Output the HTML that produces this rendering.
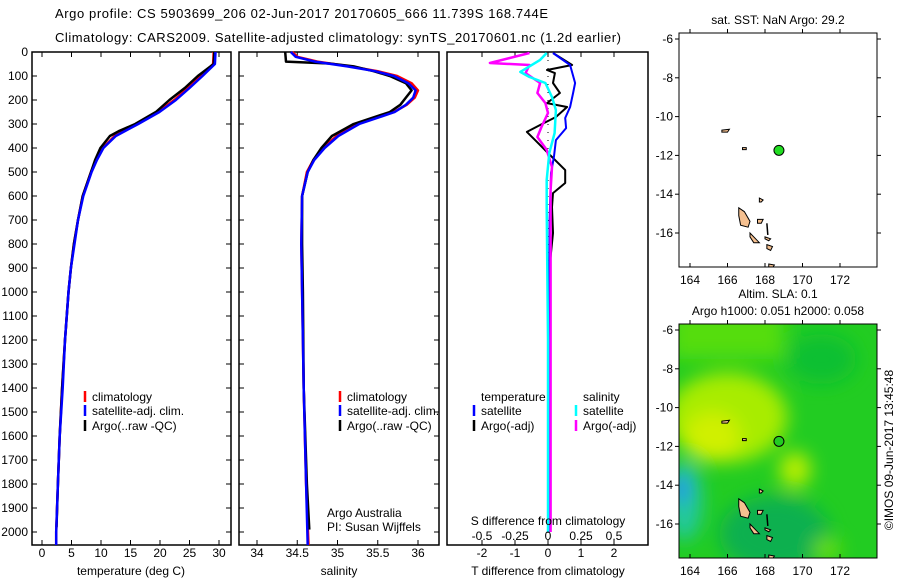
<!DOCTYPE html>
<html><head><meta charset="utf-8"><style>
html,body{margin:0;padding:0;background:#fff}
svg{display:block;font-family:"Liberation Sans",sans-serif}
</style></head><body>
<svg id="fig" width="900" height="580" viewBox="0 0 900 580" xmlns="http://www.w3.org/2000/svg">
<text x="55" y="18" font-size="13" textLength="493">Argo profile: CS 5903699_206 02-Jun-2017 20170605_666 11.739S 168.744E</text>
<text x="55" y="42" font-size="13" textLength="566">Climatology: CARS2009. Satellite-adjusted climatology: synTS_20170601.nc (1.2d earlier)</text>
<g id="p1"></g>
<g id="p2"></g>
<g id="p3"></g>
<g id="m1"></g>
<g id="m2"></g>
<text transform="translate(893,450) rotate(-90)" font-size="12" text-anchor="middle">©IMOS 09-Jun-2017 13:45:48</text>
</svg>
<script>
// ---- data ----
const depthTicks=[0,100,200,300,400,500,600,700,800,900,1000,1100,1200,1300,1400,1500,1600,1700,1800,1900,2000];
const tempTicks=[0,5,10,15,20,25,30];
const salTicks=[34,34.5,35,35.5,36];
const tdiffTicks=[-2,-1,0,1,2];
const sdiffTicks=[-0.5,-0.25,0,0.25,0.5];
const sdiffTickLabels=["-0.5","-0.25","0","0.25","0.5"];

const tClimDepth=[0,50,100,150,200,250,300,350,400,450,500,600,700,800,900,1000,1200,1400,1600,1800,2000,2054];
const tClim=[29.1,29.0,26.9,24.7,22.4,19.6,16.0,12.3,10.3,9.2,8.3,6.9,6.1,5.4,4.9,4.5,3.9,3.4,3.0,2.7,2.4,2.4];
const tSat=[29.4,29.3,27.2,25.0,22.7,19.9,16.3,12.5,10.4,9.3,8.4,7.0,6.1,5.5,4.9,4.5,3.9,3.5,3.0,2.7,2.4,2.4];
const tArgoDepth=[0,50,100,150,200,250,300,330,350,400,450,500,600,700,800,900,1000,1200,1400,1600,1800,1980];
const tArgo=[29.2,29.1,26.4,24.2,21.6,19.3,15.8,13.0,11.5,9.9,9.0,8.3,6.9,6.1,5.4,4.9,4.5,3.9,3.4,3.0,2.7,2.45];

const sClimDepth=[0,20,40,60,80,100,130,160,190,220,250,300,350,400,450,500,600,800,1000,1400,1800,2054];
const sClim=[34.44,34.5,34.75,35.15,35.5,35.74,35.92,36.0,35.96,35.86,35.7,35.24,34.99,34.82,34.7,34.62,34.56,34.55,34.56,34.58,34.61,34.64];
const sSat=[34.42,34.48,34.72,35.12,35.47,35.7,35.88,35.97,35.94,35.85,35.71,35.27,35.01,34.84,34.71,34.63,34.56,34.55,34.56,34.58,34.61,34.63];
const sArgoDepth=[0,40,48,60,80,100,130,160,190,220,250,300,350,400,450,500,600,800,1000,1400,1800,1990];
const sArgo=[34.35,34.36,34.9,35.2,35.45,35.65,35.85,35.92,35.85,35.78,35.65,35.2,34.93,34.8,34.7,34.63,34.56,34.56,34.57,34.58,34.62,34.65];

const dTSatDepth=[4,54,129,171,229,275,317,367,438,504,700,1200,2000];
const dTSat=[0.15,0.67,0.82,0.76,0.67,0.52,0.55,0.24,0.18,0.09,0.05,0.04,0.03];
const dTArgoDepth=[4,54,75,88,129,171,213,229,271,304,333,367,421,492,546,588,646,754,921,1400,2000];
const dTArgo=[0.15,0.73,-0.03,0.21,0.15,0.36,-0.03,0.58,0.24,-0.24,-0.64,-0.39,0.0,0.52,0.52,0.15,0.12,0.15,0.03,0.05,0.03];
const dSSatDepth=[4,33,83,104,129,188,242,338,421,533,646,1200,2000];
const dSSat=[-0.01,-0.06,-0.21,-0.14,-0.02,0.03,0.06,0.05,0.01,-0.01,-0.01,0.0,0.0];
const dSArgoDepth=[4,46,54,88,129,171,213,254,313,354,408,479,575,1000,2000];
const dSArgo=[-0.14,-0.44,-0.14,-0.17,-0.06,-0.08,-0.02,0.0,-0.05,-0.08,-0.01,0.03,0.02,0.02,0.02];

const mapLonTicks=[164,166,168,170,172];
const mapLatTicks=[-6,-8,-10,-12,-14,-16];
const argoLon=168.744, argoLat=-11.739;

// ---- helpers ----
const NS="http://www.w3.org/2000/svg";
function el(parent,tag,attrs,text){const e=document.createElementNS(NS,tag);for(const k in attrs)e.setAttribute(k,attrs[k]);if(text!==undefined)e.textContent=text;parent.appendChild(e);return e;}
const top0=52,bot0=545;
const yD=d=>top0+d*0.24;

function frame(g,x0,x1){
  const r=el(g,'rect',{x:x0,y:top0,width:x1-x0,height:bot0-top0,fill:'none',stroke:'#000','stroke-width':1.5});
  
  
}
function xTicks(g,ticks,labels,fx,x0,x1,labelY){
  ticks.forEach((t,i)=>{const x=fx(t);
    el(g,'line',{x1:x,x2:x,y1:top0,y2:top0+5,stroke:'#000'});
    el(g,'line',{x1:x,x2:x,y1:bot0,y2:bot0-5,stroke:'#000'});
    if(labelY){const tx=el(g,'text',{x:x,y:labelY,'font-size':12,'text-anchor':'middle'},labels[i]);
      
      }
  });
}
function yTicks(g,x0,x1,labels){
  depthTicks.forEach(d=>{const y=yD(d);
    el(g,'line',{x1:x0,x2:x0+5,y1:y,y2:y,stroke:'#000'});
    el(g,'line',{x1:x1,x2:x1-5,y1:y,y2:y,stroke:'#000'});
    if(labels){const t=el(g,'text',{x:x0-4,y:y+4,'font-size':12,'text-anchor':'end'},String(d));
      
      }
  });
}
function line(g,depths,vals,fx,color,name,w){
  const pts=depths.map((d,i)=>fx(vals[i]).toFixed(1)+','+yD(d).toFixed(1)).join(' ');
  const p=el(g,'polyline',{points:pts,fill:'none',stroke:color,'stroke-width':w||2.5,'stroke-linejoin':'round'});
  
  
}
function legend(g,x,y,color,label){
  el(g,'line',{x1:x,x2:x,y1:y-10,y2:y+1,stroke:color,'stroke-width':2.5});
  const t=el(g,'text',{x:x+7,y:y,'font-size':12},label);
  
  
}
function txt(g,x,y,s,name,anchor){
  const t=el(g,'text',{x:x,y:y,'font-size':12,'text-anchor':anchor||'start'},s);
  
  
}

// ---- panel 1 temperature ----
const p1=document.getElementById('p1');
const fT=t=>42+t*5.9;
frame(p1,32,231);
xTicks(p1,tempTicks,tempTicks.map(String),fT,32,231,557);
yTicks(p1,32,231,true);
line(p1,tClimDepth,tClim,fT,'#f00','temp-climatology-line');
line(p1,tArgoDepth,tArgo,fT,'#000','temp-argo-line');
line(p1,tClimDepth,tSat,fT,'#00f','temp-satellite-line');
legend(p1,85,401,'#f00','climatology');
legend(p1,85,415,'#00f','satellite-adj. clim.');
legend(p1,85,430,'#000','Argo(..raw -QC)');
txt(p1,131,575,'temperature (deg C)','x-axis-title','middle');

// ---- panel 2 salinity ----
const p2=document.getElementById('p2');
const fS=s=>257+(s-34)*80.5;
frame(p2,239,439);
xTicks(p2,salTicks,salTicks.map(String),fS,239,439,557);
yTicks(p2,239,439,false);
line(p2,sClimDepth,sClim,fS,'#f00','sal-climatology-line');
line(p2,sArgoDepth,sArgo,fS,'#000','sal-argo-line');
line(p2,sClimDepth,sSat,fS,'#00f','sal-satellite-line');
legend(p2,340,401,'#f00','climatology');
legend(p2,340,415,'#00f','satellite-adj. clim.');
legend(p2,340,430,'#000','Argo(..raw -QC)');
txt(p2,327,517,'Argo Australia','credit-line-1');
txt(p2,327,531,'PI: Susan Wijffels','credit-line-2');
txt(p2,339,575,'salinity','x-axis-title','middle');

// ---- panel 3 differences ----
const p3=document.getElementById('p3');
const fdT=v=>548+v*33;
const fdS=v=>548+v*132;
frame(p3,447,648);
xTicks(p3,tdiffTicks,tdiffTicks.map(String),fdT,447,648,557);
el(p3,'line',{x1:548,x2:548,y1:top0,y2:bot0,stroke:'#000','stroke-dasharray':'1,7'});
line(p3,dTArgoDepth,dTArgo,fdT,'#000','tdiff-argo-line',2);
line(p3,dTSatDepth,dTSat,fdT,'#00f','tdiff-satellite-line',2);
line(p3,dSArgoDepth,dSArgo,fdS,'#f0f','sdiff-argo-line',2.5);
line(p3,dSSatDepth,dSSat,fdS,'#0ff','sdiff-satellite-line',2.5);
txt(p3,481,401,'temperature','legend-title-temperature');
txt(p3,583,401,'salinity','legend-title-salinity');
legend(p3,474,415,'#00f','satellite');
legend(p3,474,430,'#000','Argo(-adj)');
legend(p3,576,415,'#0ff','satellite');
legend(p3,576,430,'#f0f','Argo(-adj)');
txt(p3,548,525,'S difference from climatology','s-diff-axis-title','middle');
sdiffTicks.forEach((v,i)=>txt(p3,fdS(v),540,sdiffTickLabels[i],'s-diff-tick-label','middle'));
txt(p3,548,575,'T difference from climatology','t-diff-axis-title','middle');

// ---- maps ----
function map(g,top,title1,title2,colored){
  const x0=679,x1=877,y0=top,y1=top+234;
  const fx=lon=>690+(lon-164)*18.75;
  const fy=lat=>y0+6+(-6-lat)*19.4;
  const cid='clip'+top;
  const cp=el(g,'clipPath',{id:cid});el(cp,'rect',{x:x0,y:y0,width:x1-x0,height:y1-y0});
  const inner=el(g,'g',{'clip-path':'url(#'+cid+')'});
  if(colored){
    const fid='blur'+top;
    const f=el(g,'filter',{id:fid,x:'-50%',y:'-50%',width:'200%',height:'200%'});el(f,'feGaussianBlur',{stdDeviation:9});
    el(inner,'rect',{x:x0,y:y0,width:x1-x0,height:y1-y0,fill:'#22cc22'});
    const b=el(inner,'g',{filter:'url(#'+fid+')'});
    el(b,'rect',{x:fx(163),y:fy(-5),width:fx(169)-fx(163),height:fy(-7.5)-fy(-5),fill:'#55dd0a'});
    el(b,'ellipse',{cx:fx(166),cy:fy(-10.5),rx:60,ry:45,fill:'#a8ec00'});
    el(b,'ellipse',{cx:fx(165.2),cy:fy(-11.5),rx:28,ry:25,fill:'#d0f000'});
    el(b,'ellipse',{cx:fx(169.6),cy:fy(-13.2),rx:16,ry:18,fill:'#b8ee00'});
    el(b,'ellipse',{cx:fx(168.5),cy:fy(-16.5),rx:55,ry:38,fill:'#10b050'});
    el(b,'ellipse',{cx:fx(171.3),cy:fy(-17.3),rx:14,ry:12,fill:'#66dd10'});
    el(b,'ellipse',{cx:fx(171),cy:fy(-7.5),rx:35,ry:25,fill:'#10c030'});
    el(b,'ellipse',{cx:fx(163.7),cy:fy(-14.8),rx:18,ry:40,fill:'#20c8a0'});
    el(b,'ellipse',{cx:fx(163.5),cy:fy(-14.2),rx:9,ry:14,fill:'#2090f0'});
  }
  const isl=[[[166.6,-14.7],[166.9,-14.9],[167.2,-15.4],[167.1,-15.7],[166.7,-15.6],[166.6,-15.1]],
             [[167.2,-16.0],[167.5,-16.3],[167.7,-16.5],[167.4,-16.5],[167.2,-16.2]],
             [[168.0,-16.2],[168.3,-16.3],[168.2,-16.4],[168.0,-16.3]],
             [[168.1,-16.6],[168.4,-16.7],[168.3,-16.9],[168.1,-16.8]],
             [[168.2,-17.6],[168.5,-17.65],[168.4,-17.8],[168.2,-17.8]],
             [[167.6,-15.3],[167.9,-15.3],[167.8,-15.5],[167.6,-15.5]],
             [[165.7,-10.7],[166.1,-10.65],[166.0,-10.8],[165.7,-10.8]],
             [[167.7,-14.2],[167.9,-14.3],[167.8,-14.4],[167.7,-14.4]],
             [[166.8,-11.6],[167.0,-11.6],[167.0,-11.7],[166.8,-11.7]]];
  isl.forEach(p=>{const s=el(inner,'polygon',{points:p.map(q=>fx(q[0])+','+fy(q[1])).join(' '),fill:'#f5c090',stroke:'#000','stroke-width':1});
    
    });
  el(inner,'line',{x1:fx(168.1),y1:fy(-15.5),x2:fx(168.15),y2:fy(-16.1),stroke:'#000','stroke-width':1.5});
  const dot=el(inner,'circle',{cx:fx(argoLon),cy:fy(argoLat),r:5,fill:colored?'#22cc22':'#22dd22',stroke:'#000'});
  
  
  el(g,'rect',{x:x0,y:y0,width:x1-x0,height:y1-y0,fill:'none',stroke:'#000'});
  mapLonTicks.forEach(l=>{const x=fx(l);
    el(g,'line',{x1:x,x2:x,y1:y0,y2:y0-4,stroke:'#000'});
    el(g,'line',{x1:x,x2:x,y1:y1,y2:y1-4,stroke:'#000'});
    txt(g,x,y1+17,String(l),'lon-tick-label','middle');});
  mapLatTicks.forEach(l=>{const y=fy(l);
    el(g,'line',{x1:x0,x2:x0-4,y1:y,y2:y,stroke:'#000'});
    el(g,'line',{x1:x1,x2:x1+4,y1:y,y2:y,stroke:'#000'});
    txt(g,x0-6,y+4,String(l),'lat-tick-label','end');});
  txt(g,778,title2?top-26:top-9,title1,'map-title','middle');
  if(title2)txt(g,778,top-9,title2,'map-subtitle','middle');
}
map(document.getElementById('m1'),33,'sat. SST: NaN Argo: 29.2');
map(document.getElementById('m2'),324,'Altim. SLA: 0.1','Argo h1000: 0.051 h2000: 0.058',true);
</script>
</body></html>
